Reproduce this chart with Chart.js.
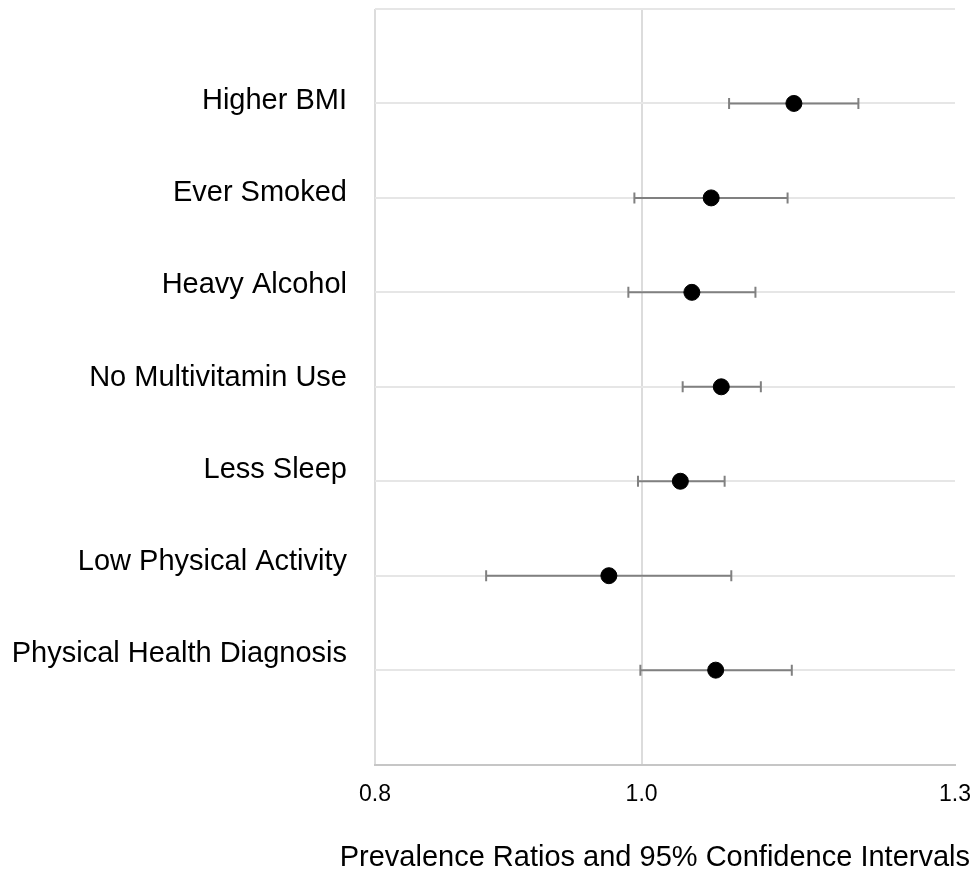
<!DOCTYPE html>
<html>
<head>
<meta charset="utf-8">
<title>Prevalence Ratios</title>
<script src="https://cdn.jsdelivr.net/npm/chart.js@4.4.0/dist/chart.umd.min.js"></script>
<style>
  body { margin: 0; background: #ffffff; }
  #wrap { width: 979px; height: 875px; }
</style>
</head>
<body>
<div id="wrap"><canvas id="forest_chart"></canvas></div>
<script>
var categories = ['Higher BMI', 'Ever Smoked', 'Heavy Alcohol', 'No Multivitamin Use', 'Less Sleep', 'Low Physical Activity', 'Physical Health Diagnosis'];
var ratios = [1.136, 1.060, 1.043, 1.069, 1.033, 0.973, 1.064];
var lower = [1.076, 0.994, 0.989, 1.035, 0.997, 0.878, 0.999];
var upper = [1.199, 1.130, 1.100, 1.105, 1.072, 1.078, 1.134];
var x_ticks = [0.8, 1.0, 1.3];
var axis_title = 'Prevalence Ratios and 95% Confidence Intervals';

var forestChart;

document.addEventListener('DOMContentLoaded', function() {
    load_chart();
});

function load_chart(){
    var datasets = [];

    // the estimates, drawn on top
    datasets.push({
        label: 'Ratio',
        data: ratios.map((r, i) => ({x: r, y: i + 1})),
        backgroundColor: '#000000',
        borderColor: '#000000',
        pointRadius: 8,
        showLine: false,
        order: 0
    });

    // one small line per row for the confidence interval, caps via pointStyle
    categories.forEach((cat, i) => {
        datasets.push({
            label: cat,
            data: [{x: lower[i], y: i + 1}, {x: upper[i], y: i + 1}],
            borderColor: '#808080',
            borderWidth: 2,
            showLine: true,
            pointStyle: 'line',
            rotation: 90,
            pointRadius: 5.5,
            pointBorderWidth: 2,
            pointBorderColor: '#808080',
            order: 1
        });
    });

    var ctx = document.getElementById('forest_chart');

    forestChart = new Chart(ctx, {
        type: 'scatter',
        data: { datasets: datasets },
        options: {
            responsive: true,
            maintainAspectRatio: false,
            animation: false,
            layout: {
                padding: { left: 12, right: 9, top: 8, bottom: 0 }
            },
            plugins: {
                legend: { display: false },
                tooltip: { enabled: false },
                // axis title is wider than the plot, so it goes in the chart title box
                title: {
                    display: true,
                    position: 'bottom',
                    align: 'end',
                    text: axis_title,
                    color: '#000000',
                    font: { family: 'Liberation Sans', size: 29, weight: 'normal' },
                    padding: { top: 16, bottom: 0 }
                }
            },
            scales: {
                x: {
                    type: 'logarithmic',
                    min: 0.8,
                    max: 1.3,
                    afterBuildTicks: function(axis) {
                        axis.ticks = x_ticks.map(v => ({value: v}));
                    },
                    afterFit: function(axis) {
                        axis.paddingLeft = 0;
                        axis.paddingRight = 24;
                    },
                    ticks: {
                        color: '#000000',
                        font: { family: 'Liberation Sans', size: 23 },
                        padding: 16,
                        maxRotation: 0,
                        autoSkip: false,
                        callback: function(value) { return Number(value).toFixed(1); }
                    },
                    grid: {
                        drawTicks: false,
                        lineWidth: 2,
                        color: function(c) {
                            if (c.tick && c.tick.value >= 1.3) return 'rgba(0,0,0,0)';
                            return '#dcdcdc';
                        }
                    },
                    border: { display: true, color: '#c6c6c6', width: 2 }
                },
                y: {
                    type: 'linear',
                    reverse: true,
                    min: 0,
                    max: 8,
                    afterFit: function(axis) {
                        axis.width = 0;
                        axis.paddingTop = 0;
                        axis.paddingBottom = 0;
                    },
                    ticks: { display: false, stepSize: 1 },
                    grid: {
                        drawTicks: false,
                        lineWidth: 2,
                        color: '#e6e6e6'
                    },
                    border: { display: false }
                },
                yLabels: {
                    type: 'linear',
                    position: 'left',
                    reverse: true,
                    min: 0,
                    max: 8.2,
                    afterBuildTicks: function(axis) {
                        axis.ticks = categories.map((c, i) => ({value: i + 1}));
                    },
                    afterFit: function(axis) {
                        axis.width = 363;
                        axis.paddingTop = 0;
                        axis.paddingBottom = 0;
                    },
                    ticks: {
                        color: '#000000',
                        font: { family: 'Liberation Sans', size: 29 },
                        padding: 28,
                        autoSkip: false,
                        callback: function(value) { return categories[value - 1]; }
                    },
                    grid: { display: false, drawTicks: false },
                    border: { display: false }
                }
            }
        }
    });
}
</script>
</body>
</html>
